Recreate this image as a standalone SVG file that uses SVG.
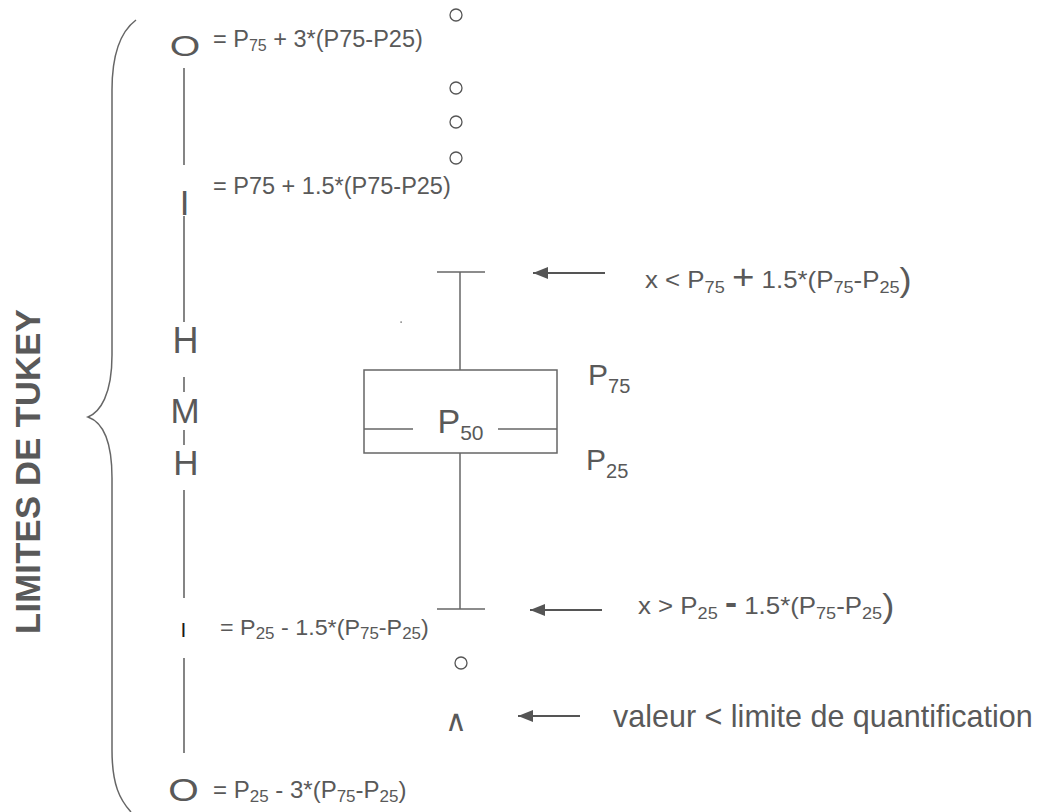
<svg xmlns="http://www.w3.org/2000/svg" width="1043" height="812" viewBox="0 0 1043 812">
<style>
text{font-family:"Liberation Sans",Arial,sans-serif;fill:#595959}
.ln{stroke:#666;stroke-width:1.5;fill:none}
.ax{stroke:#666;stroke-width:1.6}
.circ{stroke:#555;stroke-width:1.3;fill:none}
.arr{stroke:#555;stroke-width:2;fill:none}
.ttl{font-weight:bold;font-size:34.5px}
</style>
<defs>
<marker id="ah" markerUnits="userSpaceOnUse" markerWidth="16" markerHeight="13" refX="15" refY="6" orient="auto">
<path d="M0,0 L15,6 L0,12 z" fill="#555"/>
</marker>
</defs>
<rect width="1043" height="812" fill="#fff"/>

<g id="brace">
<path class="ln" d="M136,20 C120,32 112,55 112,90 L112,355 C112,395 100,412 88,417 C102,422 112,440 112,478 L112,750 C112,785 120,800 131,812"/>
</g>

<g id="title">
<text class="ttl" transform="translate(40,471.5) rotate(-90)" text-anchor="middle" letter-spacing="0.3">LIMITES DE TUKEY</text>
</g>

<g id="axis">
<line class="ax" x1="184" y1="68" x2="184" y2="165"/>
<line class="ax" x1="184" y1="216" x2="184" y2="322"/>
<line class="ax" x1="184" y1="377" x2="184" y2="392"/>
<line class="ax" x1="184" y1="430" x2="184" y2="445"/>
<line class="ax" x1="184" y1="490" x2="184" y2="598"/>
<line class="ax" x1="184" y1="658" x2="184" y2="753"/>
<text transform="translate(185,56) scale(1.12,0.85)" text-anchor="middle" font-size="35">O</text>
<text x="184.5" y="215" text-anchor="middle" font-size="35">I</text>
<text x="185.5" y="353" text-anchor="middle" font-size="36">H</text>
<text x="185" y="423" text-anchor="middle" font-size="35">M</text>
<text x="186" y="475" text-anchor="middle" font-size="35">H</text>
<text x="183.5" y="637" text-anchor="middle" font-size="21" style="fill:#1a1a1a">I</text>
<text transform="translate(183.5,801) scale(1.12,0.9)" text-anchor="middle" font-size="35">O</text>
</g>

<g id="limit-labels">
<text x="213" y="47" font-size="23.5">= P<tspan font-size="16" dy="4">75</tspan><tspan dy="-4"> + 3*(P75-P25)</tspan></text>
<text x="213" y="194" font-size="23.5">= P75 + 1.5*(P75-P25)</text>
<text transform="translate(220,635) scale(1.06,1)" font-size="22">= P<tspan font-size="16" dy="4">25</tspan><tspan dy="-4"> - 1.5*(P</tspan><tspan font-size="16" dy="4">75</tspan><tspan dy="-4">-P</tspan><tspan font-size="16" dy="4">25</tspan><tspan dy="-4">)</tspan></text>
<text x="213" y="798" font-size="24">= P<tspan font-size="17" dy="4">25</tspan><tspan dy="-4"> - 3*(P</tspan><tspan font-size="17" dy="4">75</tspan><tspan dy="-4">-P</tspan><tspan font-size="17" dy="4">25</tspan><tspan dy="-4">)</tspan></text>
</g>

<g id="outliers">
<circle class="circ" cx="456" cy="15" r="6"/>
<circle class="circ" cx="456" cy="88" r="6"/>
<circle class="circ" cx="456" cy="122" r="6"/>
<circle class="circ" cx="456" cy="158" r="6"/>
<circle class="circ" cx="461" cy="663" r="6"/>
<text x="456" y="731" text-anchor="middle" font-size="30" style="font-family:'DejaVu Sans',sans-serif">∧</text>
<rect x="400.5" y="321.5" width="1.2" height="1.2" fill="#333"/>
</g>

<g id="boxplot">
<line class="ln" x1="437" y1="272" x2="485" y2="272"/>
<line class="ln" x1="460" y1="272" x2="460" y2="370"/>
<rect class="ln" x="364" y="370" width="193" height="83"/>
<line class="ln" x1="364" y1="429" x2="413" y2="429"/>
<line class="ln" x1="498" y1="429" x2="557" y2="429"/>
<line class="ln" x1="460" y1="453" x2="460" y2="609"/>
<line class="ln" x1="437" y1="609" x2="485" y2="609"/>
<text x="437.5" y="433" font-size="34">P<tspan font-size="21" dy="7">50</tspan></text>
<text x="588" y="385" font-size="30">P<tspan font-size="20" dy="8">75</tspan></text>
<text x="586" y="470" font-size="30">P<tspan font-size="20" dy="8">25</tspan></text>
</g>

<g id="connectors">
<line class="arr" x1="605" y1="273" x2="533" y2="273" marker-end="url(#ah)"/>
<line class="arr" x1="602" y1="610" x2="530" y2="610" marker-end="url(#ah)"/>
<line class="arr" x1="580" y1="716" x2="518" y2="716" marker-end="url(#ah)"/>
</g>

<g id="annotations">
<text transform="translate(645,288) scale(1.1,1)" font-size="23.5">x &lt; P<tspan font-size="16.5" dy="5">75</tspan><tspan dy="-5"> </tspan><tspan font-size="35" dy="1">+</tspan><tspan dy="-1"> 1.5*(P</tspan><tspan font-size="16.5" dy="5">75</tspan><tspan dy="-5">-P</tspan><tspan font-size="16.5" dy="5">25</tspan><tspan font-size="33" dy="-2">)</tspan></text>
<text transform="translate(638,614) scale(1.1,1)" font-size="23.5">x &gt; P<tspan font-size="16.5" dy="5">25</tspan><tspan dy="-5"> </tspan><tspan font-size="33" font-weight="bold">-</tspan><tspan> 1.5*(P</tspan><tspan font-size="16.5" dy="5">75</tspan><tspan dy="-5">-P</tspan><tspan font-size="16.5" dy="5">25</tspan><tspan font-size="33" dy="-2">)</tspan></text>
<text x="613" y="727" font-size="30.5">valeur &lt; limite de quantification</text>
</g>
</svg>
